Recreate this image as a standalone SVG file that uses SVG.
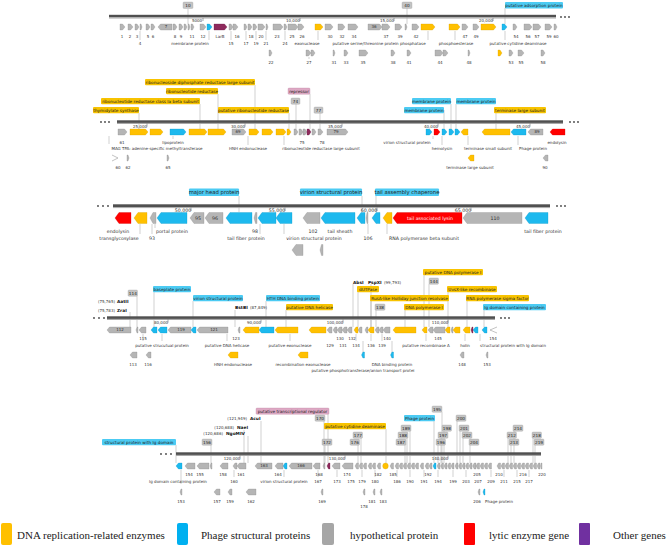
<svg xmlns="http://www.w3.org/2000/svg" width="669" height="549" viewBox="0 0 669 549">
<style>
.bb{fill:#505050}.bl{stroke:#a8a8a8;stroke-width:1}
.y{fill:#FFC000;stroke:#d49f00;stroke-width:.3}
.b{fill:#1DB9EE;stroke:#0b95c4;stroke-width:.3}
.g{fill:#B5B5B5;stroke:#8a8a8a;stroke-width:.3}
.r{fill:#FF0000;stroke:#c00;stroke-width:.3}
.p{fill:#8E2A5C;stroke:#6a1c43;stroke-width:.3}
.o{fill:none;stroke:#9a9a9a;stroke-width:.6}
text{font-family:"DejaVu Sans",Verdana,sans-serif;fill:#333}
.n{font-size:4px;text-anchor:middle}
.m{font-size:4.7px;text-anchor:middle}
.s{font-size:4px}
.k{font-size:4.3px;font-weight:bold;fill:#111}
.bx{font-size:4.2px;text-anchor:middle;fill:#222}
.bx3{font-size:5.3px;text-anchor:middle;fill:#222}
.yb{fill:#F8C300}.cb{fill:#4CCBF3}.gb{fill:#C4C4C4;stroke:#999;stroke-width:.3}.pb{fill:#DDA9C4;stroke:#b77f9d;stroke-width:.3}
.ld{stroke:#a0a0a0;stroke-width:.5;fill:none}
.tk{stroke:#555;stroke-width:.5}
.dot{fill:#444}
.lg{font-family:"Liberation Serif","Times New Roman",serif;font-size:11px;fill:#222}
</style>

<g id="connectors">
<!-- row1 -->
<path class="ld" d="M188,9V24M407,8V24M505,8V24"/>
<path class="ld" d="M140,31V40M231,31V40M246,31V40M256,31V40M266,31V40M285,31V40M209,31V40M318,31V40M428,31V40M455,31V40M505,31V40M309,57V59"/>
<!-- row2 -->
<path class="ld" d="M255,85V129M218,94V129M310,94V129M200,104V129M139,113V129M289,113V129M296,104V129M320,113V129M451,104V129M456,104V129M444,110V129M496,113V129"/>
<path class="ld" d="M109,136V144M173,136V139M248,136V145M284,136V145M442,136V145M468,136V145M518,136V145M433,136V139"/>
<!-- row3 -->
<path class="ld" d="M239,196V212M362,196V212M376,196V212"/>
<path class="ld" d="M140,224V234M152,224V234M155,224V228M260,224V234M284,224V234M368,224V234M387,224V234"/>
<!-- row4 -->
<path class="ld" d="M137,296V327M130,312V327M154,292V327M193,301V327M235,310V327M266,301V327M286,310V327M353,284V327M371,284V327M424,275V327M429,284V327M358,292V327M448,292V327M371,301V327M467,301V327M376,310V327M405,310V327M484,310V327"/>
<path class="ld" d="M143,334V341M162,334V341M227,334V341M290,334V341M356,334V341M371,334V341M382,334V341M426,334V341M465,334V341M480,334V341M363,341V358M392,341V358"/>
<!-- row5 -->
<path class="ld" d="M176,445V463M211,445V463M328,414V463M261,421V463M324,421V463M244,430V463M248,436V463M386,429V463M361,438V463M358,445V463M325,445V463M442,412V463M434,421V463M410,431V463M407,438V463M405,445V463M444,431V463M441,438V463M438,445V463M457,421V463M460,431V463M463,438V463M470,445V463M514,431V463M508,438V463M511,445V463M533,438V463M535,445V463"/>
<path class="ld" d="M181,470V484M234,470V477M284,470V477M318,470V477M337,470V477M362,470V477M375,470V477M397,470V477M410,470V477M424,470V477M438,470V477M453,470V477M466,470V477M491,470V477M504,470V477M517,470V477M529,470V477"/>
</g>

<g id="row1">
<rect class="bb" x="109" y="14.8" width="447" height="2.6"/><line class="bl" x1="109" y1="18" x2="556" y2="18"/>
<circle class="dot" cx="561" cy="17" r="0.9"/><circle class="dot" cx="565" cy="17" r="0.9"/><circle class="dot" cx="569" cy="17" r="0.9"/>
<text class="n" x="197" y="22">5000</text><line class="tk" x1="203" y1="18" x2="203" y2="21"/>
<text class="n" x="293" y="22">10,000</text><line class="tk" x1="300" y1="18" x2="300" y2="21"/>
<text class="n" x="387" y="22">15,000</text><line class="tk" x1="394" y1="18" x2="394" y2="21"/>
<text class="n" x="486" y="22">20,000</text><line class="tk" x1="493" y1="18" x2="493" y2="21"/>
<g id="box10"><rect class="gb" x="183" y="2" width="10" height="6.5" rx="1"/><text class="bx" x="188" y="6.8">10</text></g>
<g id="box40"><rect class="gb" x="402" y="2" width="10" height="6.5" rx="1"/><text class="bx" x="407" y="6.8">40</text></g>
<g id="boxads"><rect class="cb" x="505" y="2" width="58" height="6.5" rx="1"/><text class="bx" x="534" y="6.8">putative adsorption protein</text></g>
<path class="g" d="M120,24H122.5L125,27L122.5,30H120Z M128,24H130.5L133,27L130.5,30H128Z M135,24H137L139,27L137,30H135Z M140,24H141L142,27L141,30H140Z M146,24H148L150,27L148,30H146Z M151,24H153L155,27L153,30H151Z"/>
<path class="g" d="M172,24H160.5L158,27L160.5,30H172Z"/><text class="n" x="166" y="28.4">7</text>
<path class="g" d="M173,24H175L177,27L175,30H173Z M179,24H181L183,27L181,30H179Z M184,24H185.5L187,27L185.5,30H184Z M188,24H189L190,27L189,30H188Z M191,24H192.5L194,27L192.5,30H191Z M200,24H203.5L206,27L203.5,30H200Z"/>
<path class="b" d="M207,24H209.5L212,27L209.5,30H207Z"/>
<path class="p" d="M214,24H224.5L227,27L224.5,30H214Z"/>
<path class="g" d="M229,24H231L233,27L231,30H229Z M233,24H235.5L238,27L235.5,30H233Z M244,24H245.5L247,27L245.5,30H244Z M248,24H250L252,27L250,30H248Z M253,24H255L257,27L255,30H253Z M258,24H262.5L265,27L262.5,30H258Z M266,24H267L268,27L267,30H266Z M273,24H280.5L283,27L280.5,30H273Z M284,24H285.5L287,27L285.5,30H284Z M288,24H295.5L298,27L295.5,30H288Z M298,24H301.5L304,27L301.5,30H298Z"/>
<path class="y" d="M315,24H320.5L323,27L320.5,30H315Z"/>
<path class="g" d="M325,24H330.5L333,27L330.5,30H325Z M338,24H342.5L345,27L342.5,30H338Z M348,24H355.5L358,27L355.5,30H348Z M368,24H379.5L382,27L379.5,30H368Z M382,24H387.5L390,27L387.5,30H382Z M395,24H399.5L402,27L399.5,30H395Z M405,24H406L407,27L406,30H405Z M412,24H416.5L419,27L416.5,30H412Z"/>
<text class="n" x="374" y="28.4">36</text>
<path class="y" d="M421,24H432.5L435,27L432.5,30H421Z M449,24H457.5L460,27L457.5,30H449Z M481,24H493.5L496,27L493.5,30H481Z"/>
<path class="g" d="M462,24H465.5L468,27L465.5,30H462Z M473,24H476.5L479,27L476.5,30H473Z"/>
<path class="b" d="M502,24H504.5L507,27L504.5,30H502Z"/>
<path class="g" d="M513,24H515L517,27L515,30H513Z M524,24H529.5L532,27L529.5,30H524Z M533,24H538.5L541,27L538.5,30H533Z M545,24H549.5L552,27L549.5,30H545Z M554,24H555.5L557,27L555.5,30H554Z"/>
<!-- lower -->
<path class="g" d="M269,50H270.5L272,53L270.5,56H269Z M306,50H308.5L311,53L308.5,56H306Z M311,50H313L315,53L313,56H311Z M333,50H334L335,53L334,56H333Z M344,50H346L348,53L346,56H344Z M359,50H365.5L368,53L365.5,56H359Z M391,50H393L395,53L393,56H391Z M407,50H409L411,53L409,56H407Z M435,50H440.5L443,53L440.5,56H435Z M443,50H445.5L448,53L445.5,56H443Z M468,50H469L470,53L469,56H468Z M509,50H511L513,53L511,56H509Z M518,50H521.5L524,53L521.5,56H518Z M541,50H543L545,53L543,56H541Z"/>
<path class="y" d="M498,50H500L502,53L500,56H498Z"/>
<g class="n">
<text x="122" y="38">1</text><text x="130" y="38">2</text><text x="137" y="38">3</text><text x="148" y="38">5</text><text x="153" y="38">6</text><text x="175" y="38">8</text><text x="181" y="38">9</text><text x="192" y="38">11</text><text x="203" y="38">12</text><text x="220" y="38">LarB</text><text x="237" y="38">16</text><text x="251" y="38">18</text><text x="261" y="38">20</text><text x="277" y="38">23</text><text x="292" y="38">25</text><text x="302" y="38">26</text><text x="330" y="38">30</text><text x="342" y="38">32</text><text x="354" y="38">34</text><text x="386" y="38">37</text><text x="400" y="38">39</text><text x="416" y="38">42</text><text x="465" y="38">47</text><text x="476" y="38">49</text><text x="516" y="38">54</text><text x="528" y="38">56</text><text x="537" y="38">57</text><text x="549" y="38">59</text><text x="556" y="38">60</text>
<text x="140" y="45">4</text><text x="190" y="45">membrane protein</text><text x="231" y="45">15</text><text x="246" y="45">17</text><text x="256" y="45">19</text><text x="266" y="45">21</text><text x="285" y="45">24</text><text x="307" y="45">exonuclease</text><text x="379" y="45">putative serine/threonine protein phosphatase</text><text x="456" y="45">phosphoesterase</text><text x="518" y="45">putative cytidine deaminase</text>
<text x="271" y="64">22</text><text x="309" y="64">27</text><text x="334" y="64">31</text><text x="346" y="64">33</text><text x="363" y="64">35</text><text x="393" y="64">38</text><text x="409" y="64">41</text><text x="440" y="64">44</text><text x="469" y="64">48</text><text x="511" y="64">53</text><text x="521" y="64">55</text><text x="543" y="64">58</text>
</g>
</g>

<g id="row2">
<circle class="dot" cx="101" cy="122" r="0.9"/><circle class="dot" cx="105" cy="122" r="0.9"/><circle class="dot" cx="109" cy="122" r="0.9"/>
<rect class="bb" x="117" y="120.3" width="446" height="2.6"/><line class="bl" x1="117" y1="123.5" x2="563" y2="123.5"/>
<circle class="dot" cx="570" cy="122" r="0.9"/><circle class="dot" cx="574" cy="122" r="0.9"/><circle class="dot" cx="578" cy="122" r="0.9"/>
<text class="n" x="140" y="127.5">25,000</text><line class="tk" x1="147" y1="123.5" x2="147" y2="126.5"/>
<text class="n" x="238" y="127.5">30,000</text><line class="tk" x1="245" y1="123.5" x2="245" y2="126.5"/>
<text class="n" x="335" y="127.5">35,000</text><line class="tk" x1="342" y1="123.5" x2="342" y2="126.5"/>
<text class="n" x="431" y="127.5">40,000</text><line class="tk" x1="438" y1="123.5" x2="438" y2="126.5"/>
<text class="n" x="523" y="127.5">45,000</text><line class="tk" x1="530" y1="123.5" x2="530" y2="126.5"/>
<g id="b_rdr"><rect class="yb" x="145" y="79" width="110" height="6.3" rx="1"/><text class="bx" x="200" y="83.6">ribonucleoside diphosphate reductase large subunit</text></g>
<g id="b_rr"><rect class="yb" x="166" y="88" width="52" height="6.3" rx="1"/><text class="bx" x="192" y="92.6">ribonucleotide reductase</text></g>
<g id="b_rep"><rect class="pb" x="288" y="88" width="22" height="6.3" rx="1"/><text class="bx" x="299" y="92.6">repressor</text></g>
<g id="b_rrc"><rect class="yb" x="101" y="98" width="99" height="6.3" rx="1"/><text class="bx" x="150.5" y="102.6">ribonucleotide reductase class Ia beta subunit</text></g>
<g id="b_ts"><rect class="yb" x="93" y="107" width="46" height="6.3" rx="1"/><text class="bx" x="116" y="111.6">thymidylate synthase</text></g>
<g id="b_prr"><rect class="yb" x="218" y="107" width="71" height="6.3" rx="1"/><text class="bx" x="253.5" y="111.6">putative ribonucleotide reductase</text></g>
<g id="b74"><rect class="gb" x="291" y="98" width="9" height="6.3" rx="1"/><text class="bx" x="295.5" y="102.6">74</text></g>
<g id="b77"><rect class="gb" x="314" y="107" width="9" height="6.3" rx="1"/><text class="bx" x="318.5" y="111.6">77</text></g>
<g id="b_mp1"><rect class="cb" x="412" y="98" width="39" height="6.3" rx="1"/><text class="bx" x="431.5" y="102.6">membrane protein</text></g>
<g id="b_mp2"><rect class="cb" x="456" y="98" width="40" height="6.3" rx="1"/><text class="bx" x="476" y="102.6">membrane protein</text></g>
<g id="b_mp3"><rect class="cb" x="404" y="107" width="40" height="6.3" rx="1"/><text class="bx" x="424" y="111.6">membrane protein</text></g>
<g id="b_tls"><rect class="yb" x="494" y="107" width="52" height="6.3" rx="1"/><text class="bx" x="520" y="111.6">terminase large subunit</text></g>
<path class="g" d="M118,129H124.5L127,132L124.5,135H118Z M232,129H243.5L246,132L243.5,135H232Z M294,129H296L298,132L296,135H294Z M299,129H301L303,132L301,135H299Z M303,129H305L307,132L305,135H303Z M312,129H314L316,132L314,135H312Z M318,129H320.5L323,132L320.5,135H318Z M327,129H345.5L348,132L345.5,135H327Z"/>
<text class="n" x="238" y="133.4">69</text><text class="n" x="336" y="133.4">79</text>
<path class="y" d="M130,129H145.5L148,132L145.5,135H130Z M150,129H160.5L163,132L160.5,135H150Z M189,129H204.5L207,132L204.5,135H189Z M208,129H223.5L226,132L223.5,135H208Z M249,129H256.5L259,132L256.5,135H249Z M262,129H270.5L273,132L270.5,135H262Z M276,129H283.5L286,132L283.5,135H276Z M287,129H289L291,132L289,135H287Z"/>
<path class="b" d="M170,129H183.5L186,132L183.5,135H170Z M426,129H429.5L432,132L429.5,135H426Z M442,129H444.5L447,132L444.5,135H442Z M449,129H451.5L454,132L451.5,135H449Z M455,129H457.5L460,132L457.5,135H455Z"/>
<path class="p" d="M307,129H309L311,132L309,135H307Z"/>
<path class="r" d="M434,129H437.5L440,132L437.5,135H434Z M565,129H552.5L550,132L552.5,135H565Z"/>
<path class="y" d="M468,129H463.5L461,132L463.5,135H468Z M510,129H484.5L482,132L484.5,135H510Z"/>
<path class="b" d="M526,129H513.5L511,132L513.5,135H526Z"/>
<path class="g" d="M543,129H530.5L528,132L530.5,135H543Z"/><text class="n" x="537" y="133.4">89</text>
<path class="o" d="M112,155L118,158L112,161"/>
<path class="g" d="M127,155H128L129,158L128,161H127Z M167,155H168L169,158L168,161H167Z M548,155H545.5L543,158L545.5,161H548Z"/>
<path class="y" d="M474,155H470.5L468,158L470.5,161H474Z"/>
<g class="n">
<text x="122" y="143.5">61</text><text x="173" y="143.5">lipoprotein</text><text x="302" y="143.5">75</text><text x="322" y="143.5">78</text><text x="407" y="143.5">virion structural protein</text><text x="557" y="143.5">endolysin</text>
<text x="157" y="149.5">MAG TPA: adenine-specific methyltransferase</text><text x="248" y="149.5">HNH endonuclease</text><text x="321" y="149.5">ribonucleotide reductase large subunit</text><text x="442" y="149.5">hemolysin</text><text x="488" y="149.5">terminase small subunit</text><text x="533" y="149.5">Phage protein</text>
<text x="118" y="169">60</text><text x="128" y="169">62</text><text x="168" y="169">65</text><text x="470" y="169">terminase large subunit</text><text x="545" y="169">90</text>
</g>
</g>

<g id="row3">
<circle class="dot" cx="98" cy="206" r="0.9"/><circle class="dot" cx="103" cy="206" r="0.9"/><circle class="dot" cx="108" cy="206" r="0.9"/>
<rect class="bb" x="113" y="204.3" width="437" height="2.8"/><line class="bl" x1="113" y1="207.6" x2="550" y2="207.6"/>
<circle class="dot" cx="557" cy="206" r="0.9"/><circle class="dot" cx="561" cy="206" r="0.9"/><circle class="dot" cx="565" cy="206" r="0.9"/>
<text class="m" x="183" y="211.8">50,000</text><line class="tk" x1="191" y1="207.6" x2="191" y2="211"/>
<text class="m" x="277" y="211.8">55,000</text><line class="tk" x1="285" y1="207.6" x2="285" y2="211"/>
<text class="m" x="369" y="211.8">60,000</text><line class="tk" x1="377" y1="207.6" x2="377" y2="211"/>
<text class="m" x="463" y="211.8">65,000</text><line class="tk" x1="471" y1="207.6" x2="471" y2="211"/>
<g id="b_mhp"><rect class="cb" x="189" y="188.5" width="50" height="7.5" rx="1"/><text class="bx3" x="214" y="194.2">major head protein</text></g>
<g id="b_vsp3"><rect class="cb" x="300" y="188.5" width="62" height="7.5" rx="1"/><text class="bx3" x="331" y="194.2">virion structural protein</text></g>
<g id="b_tac"><rect class="cb" x="375" y="188.5" width="64" height="7.5" rx="1"/><text class="bx3" x="407" y="194.2">tail assembly chaperone</text></g>
<path class="r" d="M131,212.5H119L115,218L119,223.5H131Z M462,212.5H397L393,218L397,223.5H462Z"/>
<text class="m" x="430" y="219.7" style="fill:#fff">tail associated lysin</text>
<path class="y" d="M147,212.5H138L134,218L138,223.5H147Z M392,212.5H387L383,218L387,223.5H392Z"/>
<path class="g" d="M156,212.5H153L150,218L153,223.5H156Z M204,212.5H194L190,218L194,223.5H204Z M223,212.5H209L205,218L209,223.5H223Z M257,212.5H255.5L254,218L255.5,223.5H257Z M320,212.5H307L303,218L307,223.5H320Z M368,212.5H367L366,218L367,223.5H368Z M522,212.5H467L463,218L467,223.5H522Z M303,244.5H296L292,250L296,255.5H303Z M323,244.5H321.5L320,250L321.5,255.5H323Z"/>
<text class="m" x="198" y="219.7">95</text><text class="m" x="215" y="219.7">96</text><text class="m" x="495" y="219.7">110</text>
<path class="b" d="M187,212.5H161L157,218L161,223.5H187Z M252,212.5H230L226,218L230,223.5H252Z M276,212.5H262L258,218L262,223.5H276Z M292,212.5H280L276,218L280,223.5H292Z M355,212.5H325L321,218L325,223.5H355Z M365,212.5H361L357,218L361,223.5H365Z M380,212.5H376L372,218L376,223.5H380Z M548,212.5H529L525,218L529,223.5H548Z"/>
<g class="m">
<text x="118" y="232.5">endolysin</text><text x="172" y="232.5">portal protein</text><text x="255" y="232.5">98</text><text x="313" y="232.5">102</text><text x="340" y="232.5">tail sheath</text><text x="543" y="232.5">tail fiber protein</text>
<text x="119" y="239.5">transglycosylase</text><text x="152" y="239.5">93</text><text x="246" y="239.5">tail fiber protein</text><text x="314" y="239.5">virion structural protein</text><text x="368" y="239.5">106</text><text x="424" y="239.5">RNA polymerase beta subunit</text>
</g>
</g>

<g id="row4">
<circle class="dot" cx="94" cy="318" r="0.9"/><circle class="dot" cx="99" cy="318" r="0.9"/><circle class="dot" cx="104" cy="318" r="0.9"/>
<rect class="bb" x="107" y="316.3" width="388" height="2.6"/><line class="bl" x1="107" y1="319.5" x2="495" y2="319.5"/>
<circle class="dot" cx="501" cy="318" r="0.9"/><circle class="dot" cx="505" cy="318" r="0.9"/><circle class="dot" cx="509" cy="318" r="0.9"/>
<text class="n" x="161" y="323.5">80,000</text><line class="tk" x1="168" y1="319.5" x2="168" y2="322.5"/>
<text class="n" x="254" y="323.5">90,000</text><line class="tk" x1="261" y1="319.5" x2="261" y2="322.5"/>
<text class="n" x="335" y="323.5">100,000</text><line class="tk" x1="343" y1="319.5" x2="343" y2="322.5"/>
<text class="n" x="440" y="323.5">110,000</text><line class="tk" x1="448" y1="319.5" x2="448" y2="322.5"/>
<g id="b114"><rect class="gb" x="128" y="290" width="9.5" height="6.3" rx="1"/><text class="bx" x="132.8" y="294.6">114</text></g>
<text class="s" x="115" y="303" text-anchor="end">(75,765)</text><text class="k" x="117" y="303">AatII</text>
<text class="s" x="115" y="312" text-anchor="end">(75,783)</text><text class="k" x="117" y="312">ZraI</text>
<g id="b_bp"><rect class="cb" x="153" y="286" width="38" height="6.3" rx="1"/><text class="bx" x="172" y="290.6">baseplate protein</text></g>
<g id="b_vsp4"><rect class="cb" x="193" y="295" width="50" height="6.3" rx="1"/><text class="bx" x="218" y="299.6">virion structural protein</text></g>
<text class="k" x="235" y="309">BstBI</text><text class="s" x="250" y="309">(87,849)</text>
<g id="b_hth"><rect class="cb" x="266" y="295" width="54" height="6.3" rx="1"/><text class="bx" x="293" y="299.6">HTH DNA binding protein</text></g>
<g id="b_pdh"><rect class="yb" x="286" y="304" width="47" height="6.3" rx="1"/><text class="bx" x="309.5" y="308.6">putative DNA helicase</text></g>
<text class="k" x="353" y="283.5">AbsI</text><text class="k" x="368" y="283.5">PspXI</text><text class="s" x="384" y="283.5">(99,793)</text>
<g id="b_pdp"><rect class="yb" x="423" y="269" width="60" height="6.3" rx="1"/><text class="bx" x="453" y="273.6">putative DNA polymerase I</text></g>
<g id="b144"><rect class="gb" x="429" y="278" width="9.5" height="6.3" rx="1"/><text class="bx" x="433.8" y="282.6">144</text></g>
<g id="b_dut"><rect class="yb" x="357" y="286" width="22" height="6.3" rx="1"/><text class="bx" x="368" y="290.6">dUTPase</text></g>
<g id="b_uvs"><rect class="yb" x="447" y="286" width="50" height="6.3" rx="1"/><text class="bx" x="472" y="290.6">UvsX-like recombinase</text></g>
<g id="b_rus"><rect class="yb" x="370" y="295" width="79" height="6.3" rx="1"/><text class="bx" x="409.5" y="299.6">RusA-like Holliday junction resolvase</text></g>
<g id="b_rps"><rect class="yb" x="466" y="295" width="63" height="6.3" rx="1"/><text class="bx" x="497.5" y="299.6">RNA polymerase sigma factor</text></g>
<g id="b138"><rect class="gb" x="375" y="304" width="10" height="6.3" rx="1"/><text class="bx" x="380" y="308.6">138</text></g>
<g id="b_dp"><rect class="yb" x="404" y="304" width="40" height="6.3" rx="1"/><text class="bx" x="424" y="308.6">DNA polymerase I</text></g>
<g id="b_ig"><rect class="cb" x="483" y="304" width="63" height="6.3" rx="1"/><text class="bx" x="514.5" y="308.6">Ig domain containing protein</text></g>
<path class="g" d="M131,327H109.5L107,330L109.5,333H131Z M138,327H137L136,330L137,333H138Z M146,327H141.5L139,330L141.5,333H146Z M191,327H170.5L168,330L170.5,333H191Z M228,327H199.5L197,330L199.5,333H228Z M240,327H239L238,330L239,333H240Z M332,327H329.5L327,330L329.5,333H332Z M337,327H335L333,330L335,333H337Z M342,327H339.5L337,330L339.5,333H342Z M347,327H344.5L342,330L344.5,333H347Z M352,327H349.5L347,330L349.5,333H352Z M362,327H360L358,330L360,333H362Z M368,327H366.5L365,330L366.5,333H368Z M379,327H377L375,330L377,333H379Z M383,327H381L379,330L381,333H383Z M390,327H385.5L383,330L385.5,333H390Z M433,327H430.5L428,330L430.5,333H433Z M445,327H435.5L433,330L435.5,333H445Z M453,327H452L451,330L452,333H453Z"/>
<text class="n" x="120" y="331.4">112</text><text class="n" x="181" y="331.4">119</text><text class="n" x="214" y="331.4">121</text>
<path class="b" d="M157,327H153.5L151,330L153.5,333H157Z M167,327H160.5L158,330L160.5,333H167Z M196,327H193.5L191,330L193.5,333H196Z M274,327H261.5L259,330L261.5,333H274Z M478,327H475.5L473,330L475.5,333H478Z M487,327H484.5L482,330L484.5,333H487Z M364.5,352H363L361.5,355L363,358H364.5Z M393.5,352H392L390.5,355L392,358H393.5Z"/>
<path class="y" d="M259,327H245.5L243,330L245.5,333H259Z M298,327H277.5L275,330L277.5,333H298Z M326,327H311.5L309,330L311.5,333H326Z M358,327H356L354,330L356,333H358Z M374,327H370.5L368,330L370.5,333H374Z M416,327H395.5L393,330L395.5,333H416Z M427,327H424.5L422,330L424.5,333H427Z M450,327H447.5L445,330L447.5,333H450Z M460,327H455.5L453,330L455.5,333H460Z M470,327H465.5L463,330L465.5,333H470Z M238,352H230.5L228,355L230.5,358H238Z M308,352H300.5L298,355L300.5,358H308Z"/>
<path class="p" d="M473,327H472L471,330L472,333H473Z"/>
<path class="o" d="M497,327L490,330L497,333"/>
<path class="g" d="M137,352H132.5L130,355L132.5,358H137Z M151,352H148.5L146,355L148.5,358H151Z M464,352H462L460,355L462,358H464Z M488,352H487L486,355L487,358H488Z"/>
<g class="n">
<text x="143" y="340">115</text><text x="236" y="340">123</text><text x="340" y="340">130</text><text x="352" y="340">132</text><text x="387" y="340">140</text><text x="438" y="340">145</text><text x="493" y="340">154</text>
<text x="162" y="347">putative strucutual protein</text><text x="227" y="347">putative DNA helicase</text><text x="290" y="347">putative exonuclease</text><text x="330" y="347">129</text><text x="343" y="347">131</text><text x="356" y="347">134</text><text x="371" y="347">136</text><text x="382" y="347">139</text><text x="426" y="347">putative recombinase A</text><text x="465" y="347">holin</text><text x="513" y="347">structural protein with Ig domain</text>
<text x="133" y="366">113</text><text x="148" y="366">116</text><text x="233" y="366">HNH endonuclease</text><text x="303" y="366">recombination exonuclease</text><text x="392" y="366">DNA binding protein</text><text x="462" y="366">148</text><text x="487" y="366">153</text>
<text x="363" y="372">putative phosphotransferase/anion transport protei</text>
</g>
</g>

<g id="row5">
<circle class="dot" cx="161" cy="454" r="0.9"/><circle class="dot" cx="166" cy="454" r="0.9"/><circle class="dot" cx="171" cy="454" r="0.9"/>
<rect class="bb" x="176" y="452.3" width="365" height="2.6"/><line class="bl" x1="176" y1="455.5" x2="541" y2="455.5"/>
<text class="n" x="232" y="459.5">120,000</text><line class="tk" x1="240" y1="455.5" x2="240" y2="458.5"/>
<text class="n" x="337" y="459.5">130,000</text><line class="tk" x1="345" y1="455.5" x2="345" y2="458.5"/>
<text class="n" x="440" y="459.5">140,000</text><line class="tk" x1="448" y1="455.5" x2="448" y2="458.5"/>
<g id="b_spig"><rect class="cb" x="102" y="439" width="74" height="6.3" rx="1"/><text class="bx" x="139" y="443.6">structural protein with Ig domain</text></g>
<g id="b156"><rect class="gb" x="202" y="439" width="10" height="6.3" rx="1"/><text class="bx" x="207" y="443.6">156</text></g>
<g id="b_ptr"><rect class="pb" x="256" y="408" width="73" height="6.3" rx="1"/><text class="bx" x="292.5" y="412.6">putative transcriptional regulator</text></g>
<text class="s" x="247" y="420" text-anchor="end">(121,949)</text><text class="k" x="250" y="420">AcuI</text>
<text class="s" x="234" y="429" text-anchor="end">(120,688)</text><text class="k" x="237" y="429">NaeI</text>
<text class="s" x="223" y="435" text-anchor="end">(120,686)</text><text class="k" x="226" y="435">NgoMIV</text>
<g id="b170"><rect class="gb" x="315" y="415" width="10" height="6.3" rx="1"/><text class="bx" x="320" y="419.6">170</text></g>
<g id="b_pcd"><rect class="yb" x="324" y="423" width="62" height="6.3" rx="1"/><text class="bx" x="355" y="427.6">putative cytidine deaminase</text></g>
<g id="b177"><rect class="gb" x="353" y="432" width="9.5" height="6.3" rx="1"/><text class="bx" x="357.8" y="436.6">177</text></g>
<g id="b176"><rect class="gb" x="350" y="439" width="9.5" height="6.3" rx="1"/><text class="bx" x="354.8" y="443.6">176</text></g>
<g id="b172"><rect class="gb" x="322" y="439" width="10" height="6.3" rx="1"/><text class="bx" x="327" y="443.6">172</text></g>
<g id="b195"><rect class="gb" x="432" y="406" width="10" height="6.3" rx="1"/><text class="bx" x="437" y="410.6">195</text></g>
<g id="b_pp5"><rect class="cb" x="404" y="415" width="31" height="6.3" rx="1"/><text class="bx" x="419.5" y="419.6">Phage protein</text></g>
<g id="b189"><rect class="gb" x="401" y="425" width="10" height="6.3" rx="1"/><text class="bx" x="406" y="429.6">189</text></g>
<g id="b188"><rect class="gb" x="398" y="432" width="10" height="6.3" rx="1"/><text class="bx" x="403" y="436.6">188</text></g>
<g id="b187"><rect class="gb" x="396" y="439" width="10" height="6.3" rx="1"/><text class="bx" x="401" y="443.6">187</text></g>
<g id="b198"><rect class="gb" x="442" y="425" width="9.5" height="6.3" rx="1"/><text class="bx" x="446.8" y="429.6">198</text></g>
<g id="b197"><rect class="gb" x="438" y="432" width="10" height="6.3" rx="1"/><text class="bx" x="443" y="436.6">197</text></g>
<g id="b196"><rect class="gb" x="436" y="439" width="9.5" height="6.3" rx="1"/><text class="bx" x="440.8" y="443.6">196</text></g>
<g id="b200"><rect class="gb" x="456" y="415" width="10" height="6.3" rx="1"/><text class="bx" x="461" y="419.6">200</text></g>
<g id="b201"><rect class="gb" x="459" y="425" width="10" height="6.3" rx="1"/><text class="bx" x="464" y="429.6">201</text></g>
<g id="b202"><rect class="gb" x="462" y="432" width="10" height="6.3" rx="1"/><text class="bx" x="467" y="436.6">202</text></g>
<g id="b204"><rect class="gb" x="469" y="439" width="10" height="6.3" rx="1"/><text class="bx" x="474" y="443.6">204</text></g>
<g id="b214"><rect class="gb" x="513" y="425" width="10" height="6.3" rx="1"/><text class="bx" x="518" y="429.6">214</text></g>
<g id="b212"><rect class="gb" x="507" y="432" width="9.5" height="6.3" rx="1"/><text class="bx" x="511.8" y="436.6">212</text></g>
<g id="b213"><rect class="gb" x="509" y="439" width="10" height="6.3" rx="1"/><text class="bx" x="514" y="443.6">213</text></g>
<g id="b218"><rect class="gb" x="532" y="432" width="9.5" height="6.3" rx="1"/><text class="bx" x="536.8" y="436.6">218</text></g>
<g id="b219"><rect class="gb" x="534" y="439" width="10" height="6.3" rx="1"/><text class="bx" x="539" y="443.6">219</text></g>
<path class="b" d="M182,463H178.5L176,466L178.5,469H182Z M287,463H285L283,466L285,469H287Z M436,463H434.5L433,466L434.5,469H436Z M485,489H484L483,492L484,495H485Z"/>
<path class="g" d="M195,463H187.5L185,466L187.5,469H195Z M209,463H199.5L197,466L199.5,469H209Z M212,463H211L210,466L211,469H212Z M228,463H222.5L220,466L222.5,469H228Z M237,463H235L233,466L235,469H237Z M246,463H239.5L237,466L239.5,469H246Z M272,463H257.5L255,466L257.5,469H272Z M283,463H277.5L275,466L277.5,469H283Z M312,463H291.5L289,466L291.5,469H312Z M320,463H315.5L313,466L315.5,469H320Z M325,463H324L323,466L324,469H325Z M340,463H334.5L332,466L334.5,469H340Z M353,463H344.5L342,466L344.5,469H353Z"/>
<text class="n" x="264" y="467.4">163</text><text class="n" x="301" y="467.4">166</text>
<path class="p" d="M330,463H328.5L327,466L328.5,469H330Z"/>
<path class="g" d="M358.5,463H356.7L355,466L356.7,469H358.5Z M362.5,463H360.7L359,466L360.7,469H362.5Z M366.5,463H364.7L363,466L364.7,469H366.5Z M371.5,463H369.7L368,466L369.7,469H371.5Z M375.5,463H373.7L372,466L373.7,469H375.5Z M380.5,463H378.7L377,466L378.7,469H380.5Z M393.5,463H391.7L390,466L391.7,469H393.5Z M398.5,463H396.7L395,466L396.7,469H398.5Z M402.5,463H400.7L399,466L400.7,469H402.5Z M406.5,463H404.7L403,466L404.7,469H406.5Z M410.5,463H408.7L407,466L408.7,469H410.5Z M414.5,463H412.7L411,466L412.7,469H414.5Z M418.5,463H416.7L415,466L416.7,469H418.5Z M423.5,463H421.7L420,466L421.7,469H423.5Z M428.5,463H426.7L425,466L426.7,469H428.5Z M432,463H430.5L429,466L430.5,469H432Z M440,463H438.5L437,466L438.5,469H440Z M443.5,463H442L440.5,466L442,469H443.5Z M447,463H445.5L444,466L445.5,469H447Z M450.5,463H449L447.5,466L449,469H450.5Z M454,463H452.5L451,466L452.5,469H454Z M458,463H456.5L455,466L456.5,469H458Z M461.5,463H460L458.5,466L460,469H461.5Z M465,463H463.5L462,466L463.5,469H465Z M468.5,463H467L465.5,466L467,469H468.5Z M472,463H470.5L469,466L470.5,469H472Z M476,463H474.2L472.5,466L474.2,469H476Z M479.5,463H477.7L476,466L477.7,469H479.5Z M483.5,463H481.7L480,466L481.7,469H483.5Z M487.5,463H485.7L484,466L485.7,469H487.5Z M491.5,463H489.7L488,466L489.7,469H491.5Z M500.5,463H498.7L497,466L498.7,469H500.5Z M504.5,463H502.7L501,466L502.7,469H504.5Z M508.5,463H506.7L505,466L506.7,469H508.5Z M512.5,463H510.7L509,466L510.7,469H512.5Z M516.5,463H514.7L513,466L514.7,469H516.5Z M520.5,463H518.7L517,466L518.7,469H520.5Z M524.5,463H522.7L521,466L522.7,469H524.5Z M528.5,463H526.7L525,466L526.7,469H528.5Z M532.5,463H530.7L529,466L530.7,469H532.5Z M536.5,463H534.7L533,466L534.7,469H536.5Z M540,463H538.5L537,466L538.5,469H540Z M542,463H541.2L540.5,466L541.2,469H542Z"/>
<ellipse class="y" cx="385.5" cy="466" rx="2.8" ry="3"/>
<path class="g" d="M182,489H181L180,492L181,495H182Z M220,489H216.5L214,492L216.5,495H220Z M232,489H230L228,492L230,495H232Z M256,489H248.5L246,492L248.5,495H256Z M323,489H322L321,492L322,495H323Z M365,489H364L363,492L364,495H365Z M375,489H374L373,492L374,495H375Z M382,489H381L380,492L381,495H382Z M480,489H479L478,492L479,495H480Z"/>
<g class="n">
<text x="189" y="475.5">154</text><text x="200" y="475.5">155</text><text x="223" y="475.5">158</text><text x="241" y="475.5">161</text><text x="278" y="475.5">164</text><text x="319" y="475.5">168</text><text x="347" y="475.5">174</text><text x="378" y="475.5">182</text><text x="393" y="475.5">185</text><text x="428" y="475.5">192</text><text x="477" y="475.5">205</text><text x="499" y="475.5">210</text><text x="523" y="475.5">216</text><text x="542" y="475.5">220</text>
<text x="178" y="482.5">Ig domain containing protein</text><text x="234" y="482.5">160</text><text x="284" y="482.5">virion structural protein</text><text x="318" y="482.5">167</text><text x="337" y="482.5">173</text><text x="351" y="482.5">175</text><text x="362" y="482.5">179</text><text x="375" y="482.5">180</text><text x="397" y="482.5">186</text><text x="410" y="482.5">190</text><text x="424" y="482.5">191</text><text x="438" y="482.5">194</text><text x="453" y="482.5">199</text><text x="466" y="482.5">203</text><text x="478" y="482.5">207</text><text x="491" y="482.5">209</text><text x="504" y="482.5">211</text><text x="517" y="482.5">215</text><text x="529" y="482.5">217</text>
<text x="181" y="502.5">153</text><text x="217" y="502.5">157</text><text x="230" y="502.5">159</text><text x="251" y="502.5">162</text><text x="322" y="502.5">169</text><text x="372" y="502.5">181</text><text x="383" y="502.5">183</text><text x="477" y="502.5">206</text><text x="499" y="502.5">Phage protein</text>
<text x="364" y="508">178</text>
</g>
</g>

<g id="legend">
<rect x="1" y="523" width="11" height="22" rx="2" fill="#FFC000"/><text class="lg" x="17" y="539">DNA replication-related enzymes</text>
<rect x="177" y="523" width="11" height="22" rx="2" fill="#00B0F0"/><text class="lg" x="201" y="539">Phage structural proteins</text>
<rect x="322" y="523" width="12" height="22" rx="2" fill="#A6A6A6"/><text class="lg" x="350" y="539">hypothetical protein</text>
<rect x="464" y="523" width="11" height="22" rx="1" fill="#FF0000"/><text class="lg" x="489" y="539">lytic enzyme gene</text>
<rect x="579" y="523" width="11" height="22" rx="1" fill="#7030A0"/><text class="lg" x="613" y="539">Other genes</text>
</g>
</svg>
